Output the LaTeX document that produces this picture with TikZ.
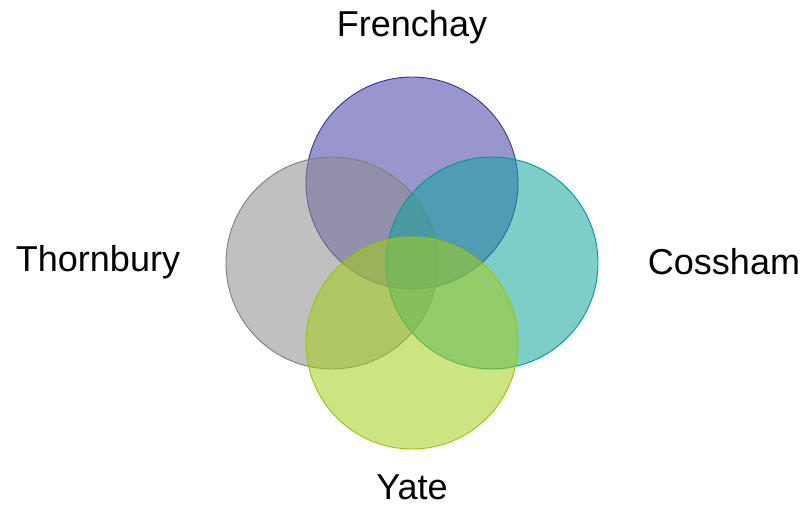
\documentclass[tikz,border=0pt]{standalone}
\usepackage{fontspec}
\setmainfont{Liberation Sans}
\definecolor{fF}{RGB}{70,64,166}
\definecolor{dF}{RGB}{50,50,150}
\definecolor{fT}{RGB}{140,140,140}
\definecolor{dT}{RGB}{125,125,125}
\definecolor{fC}{RGB}{19,164,155}
\definecolor{dC}{RGB}{0,150,150}
\definecolor{fY}{RGB}{164,206,28}
\definecolor{dY}{RGB}{150,200,0}
\begin{document}
\begin{tikzpicture}[x=1pt,y=-1pt,
  venn/.style={circle,minimum size=212pt,inner sep=0pt,fill opacity=0.55,line width=0.9pt},
  lab/.style={font=\fontsize{36}{42}\selectfont,inner sep=0pt}]
\useasboundingbox (0,0) rectangle (807,509);
\node[venn,fill=fF,draw=dF] (fr) at (412,183) {};
\node[venn,fill=fT,draw=dT] (th) at (332,263) {};
\node[venn,fill=fC,draw=dC] (co) at (492,263) {};
\node[venn,fill=fY,draw=dY] (ya) at (412,343) {};
\node[lab] (lfr) at (412,27) {Frenchay};
\node[lab] (lth) at (98,262) {Thornbury};
\node[lab] (lco) at (724,262) {Cossham};
\node[lab] (lya) at (412,487) {Yate};
\end{tikzpicture}
\end{document}
